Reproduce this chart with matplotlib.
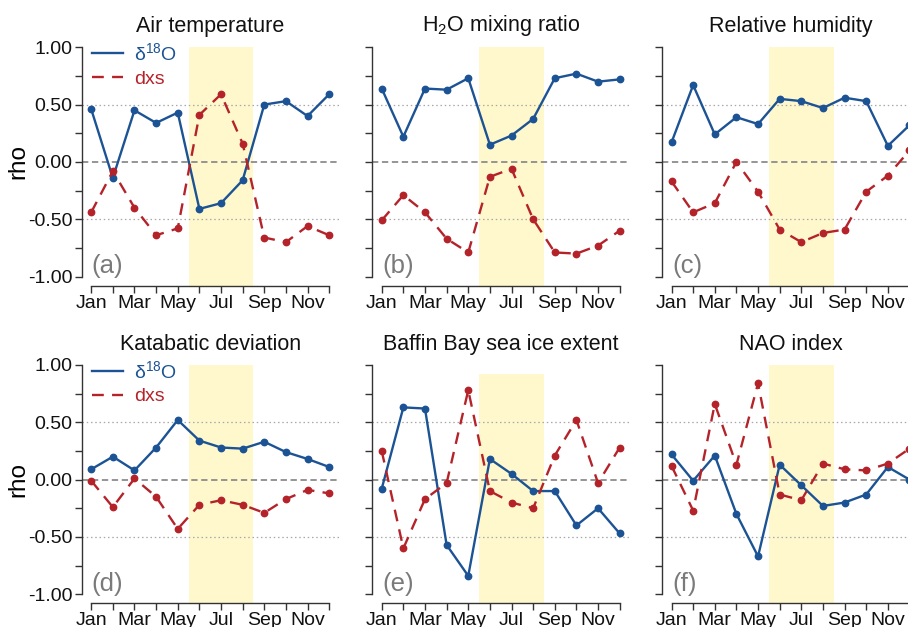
import numpy as np
import matplotlib.pyplot as plt
from matplotlib.ticker import FixedLocator

plt.rcParams['font.family'] = ['Liberation Sans', 'DejaVu Sans']
plt.rcParams['mathtext.fontset'] = 'custom'
plt.rcParams['mathtext.rm'] = 'Liberation Sans'
plt.rcParams['mathtext.it'] = 'Liberation Sans:italic'

# === datos ===
months = ["Jan", "Feb", "Mar", "Apr", "May", "Jun", "Jul", "Aug", "Sep", "Oct", "Nov", "Dec"]
titles = ["Air temperature", "H$_2$O mixing ratio", "Relative humidity",
          "Katabatic deviation", "Baffin Bay sea ice extent", "NAO index"]
panel_labels = ["(a)", "(b)", "(c)", "(d)", "(e)", "(f)"]

d18o_air = [0.46, -0.14, 0.45, 0.34, 0.43, -0.41, -0.36, -0.16, 0.50, 0.53, 0.40, 0.59]
dxs_air = [-0.44, -0.08, -0.40, -0.64, -0.58, 0.41, 0.59, 0.16, -0.66, -0.70, -0.56, -0.64]

d18o_h2o = [0.64, 0.22, 0.64, 0.63, 0.73, 0.15, 0.23, 0.375, 0.73, 0.77, 0.70, 0.72]
dxs_h2o = [-0.51, -0.29, -0.44, -0.67, -0.79, -0.13, -0.06, -0.50, -0.79, -0.80, -0.73, -0.60]

d18o_rh = [0.17, 0.67, 0.24, 0.39, 0.33, 0.55, 0.53, 0.47, 0.56, 0.53, 0.14, 0.32]
dxs_rh = [-0.17, -0.44, -0.36, 0.00, -0.26, -0.59, -0.70, -0.62, -0.59, -0.26, -0.12, 0.10]

d18o_kat = [0.09, 0.20, 0.08, 0.28, 0.52, 0.34, 0.28, 0.27, 0.33, 0.24, 0.18, 0.11]
dxs_kat = [-0.01, -0.24, 0.01, -0.15, -0.43, -0.22, -0.18, -0.22, -0.29, -0.17, -0.09, -0.12]

d18o_ice = [-0.08, 0.63, 0.62, -0.57, -0.84, 0.18, 0.05, -0.10, -0.10, -0.40, -0.25, -0.47]
dxs_ice = [0.25, -0.60, -0.17, -0.03, 0.78, -0.10, -0.20, -0.25, 0.21, 0.52, -0.03, 0.28]

d18o_nao = [0.22, -0.01, 0.21, -0.30, -0.67, 0.13, -0.05, -0.23, -0.20, -0.13, 0.11, 0.00]
dxs_nao = [0.12, -0.27, 0.66, 0.13, 0.84, -0.13, -0.18, 0.14, 0.09, 0.08, 0.14, 0.27]

d18o_all = [d18o_air, d18o_h2o, d18o_rh, d18o_kat, d18o_ice, d18o_nao]
dxs_all = [dxs_air, dxs_h2o, dxs_rh, dxs_kat, dxs_ice, dxs_nao]
shade_top = [1.0, 1.0, 1.0, 1.0, 0.92, 1.0]

azul = "#1c5394"
rojo = "#b5232a"
amarillo = "#fff8cc"

# =========================
# === FIGURA ===
# =========================
fig = plt.figure(figsize=(9.08, 6.27), dpi=100)

W, H = 908.0, 627.0
lefts = [81.7, 372.2, 662.0]
ancho = 257.0
tops = [38.1, 355.8]
alto = 247.6

x = np.arange(12)
for i in range(6):
    fila, col = divmod(i, 3)
    ax = fig.add_axes([lefts[col] / W, 1 - (tops[fila] + alto) / H, ancho / W, alto / H])
    ax.set_xlim(-0.44, 11.44)
    ax.set_ylim(-1.08, 1.08)

    ax.fill_between([4.5, 7.5], -1.08, shade_top[i], color=amarillo, lw=0, zorder=0)
    ax.axhline(0, color="#8c8c8c", lw=1.3, ls=(0, (3.5, 2)), zorder=1)
    for yy in (0.5, -0.5):
        ax.axhline(yy, color="#a8a8a8", lw=0.9, ls=(0, (1.2, 2.2)), zorder=1)

    ax.plot(x, d18o_all[i], color=azul, lw=1.7, marker="o", ms=4.6, zorder=3,
            label=r"δ$^{\mathrm{18}}$O")
    ax.plot(x, dxs_all[i], color=rojo, lw=1.7, ls=(0, (5, 3.5)), marker="o", ms=4.6,
            zorder=3, label="dxs")

    for s in ("top", "right"):
        ax.spines[s].set_visible(False)
    ax.spines["left"].set_bounds(-1, 1)
    ax.spines["bottom"].set_bounds(0, 11)
    for s in ("left", "bottom"):
        ax.spines[s].set_color("#333333")
        ax.spines[s].set_linewidth(1.0)

    ax.yaxis.set_major_locator(FixedLocator([-1, -0.5, 0, 0.5, 1]))
    ax.yaxis.set_minor_locator(FixedLocator([-0.75, -0.25, 0.25, 0.75]))
    ax.xaxis.set_major_locator(FixedLocator(x[::2]))
    ax.xaxis.set_minor_locator(FixedLocator(x[1::2]))
    ax.set_xticklabels(months[::2])
    ax.tick_params(which="both", direction="out", length=5, width=1, color="#333333",
                   labelsize=14, labelcolor="#111111")
    ax.tick_params(axis="x", pad=1.5)
    ax.tick_params(axis="y", pad=1.5)
    if col == 0:
        ax.set_yticklabels(["-1.00", "-0.50", "0.00", "0.50", "1.00"])
        ax.set_ylabel("rho", fontsize=17.5, labelpad=-1)
    else:
        ax.set_yticklabels([])

    ax.set_title(titles[i], fontsize=15.5, pad=4.5, color="#111111")
    ax.text(0.03, -0.97, panel_labels[i], fontsize=18.5, color="#7a7a7a",
            ha="left", va="baseline")

    if col == 0:
        ax.legend(loc="upper left", bbox_to_anchor=(-0.005, 1.03), frameon=False,
                  fontsize=14, handlelength=1.6, handletextpad=0.55, labelspacing=0.3,
                  borderaxespad=0.2, markerscale=0)
        leg = ax.get_legend()
        for txt, c in zip(leg.get_texts(), [azul, rojo]):
            txt.set_color(c)
        for ln in leg.get_lines():
            ln.set_marker("")

fig.savefig("out.png", dpi=100)
